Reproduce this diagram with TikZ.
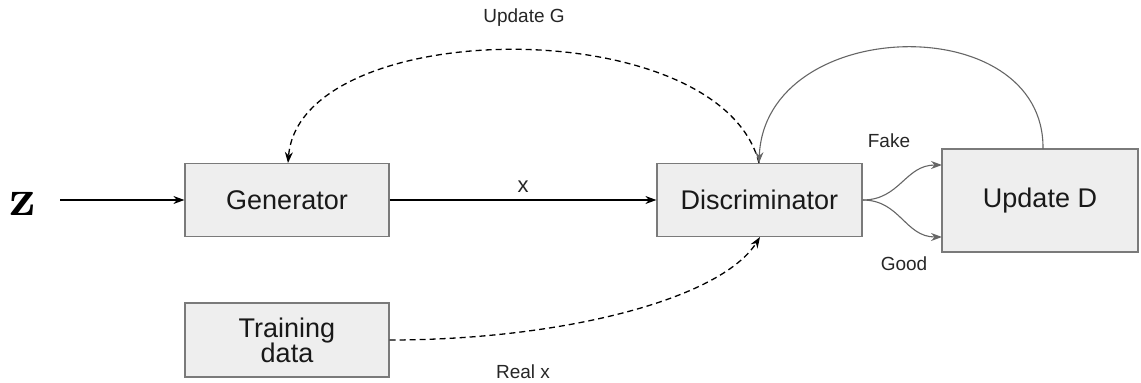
\documentclass[tikz,border=0pt]{standalone}
\usepackage[no-math]{fontspec}
\usepackage{graphicx}
\setmainfont{Liberation Sans}
\usetikzlibrary{arrows.meta}
\definecolor{boxfill}{HTML}{EEEEEE}
\definecolor{boxline}{HTML}{7A7A7A}
\definecolor{arcgray}{HTML}{666666}
\tikzset{
  blk/.style={draw=boxline, fill=boxfill, line width=1.2pt, inner sep=0pt, align=center,
    font=\fontsize{27}{31}\selectfont, text=black!90},
  lbl/.style={font=\fontsize{19}{22}\selectfont, text=black!85},
  arr/.style={line width=1.3pt, -{Stealth[length=11pt,width=8pt]}},
  dsh/.style={arr, dash pattern=on 6pt off 4pt},
}
\begin{document}
\begin{tikzpicture}[x=1pt,y=-1pt]
\useasboundingbox (0,0) rectangle (1141,383);
\node[blk, minimum width=204pt, minimum height=73pt] (gen) at (287,200) {Generator};
\node[blk, minimum width=205pt, minimum height=73pt] (dis) at (759.5,200) {Discriminator};
\node[blk, minimum width=196pt, minimum height=103pt] (upd) at (1040,200.5) {Update D};
\node[blk, minimum width=204pt, minimum height=74pt] (trn) at (287,340) {Training\\[-6pt]data};
\node[anchor=base, inner sep=0pt] (z) at (23,215) {\fontsize{10}{12}\selectfont\scalebox{5.2}{$\mathbf{z}$}};
\coordinate (zs) at (60,200);

\draw[arr] (zs) -- (gen.west);
\draw[arr] (gen.east) -- node[lbl, above=4pt, font=\fontsize{22}{24}\selectfont] (xl) {x} (dis.west);

\coordinate (dtop) at (759,163);
\coordinate (gtop) at (288,163);
\coordinate (dbot) at (760,237);
\coordinate (utop) at (1043,149);
\draw[dsh] (dtop) .. controls (720,10) and (300,15) .. (gtop);
\node[lbl] (ug) at (524,18) {Update G};

\draw[arr, draw=arcgray, line width=1.1pt] (utop) .. controls (1045,8) and (765,15) .. (dtop);

\draw[dsh] (trn.east) .. controls (560,340) and (720,300) .. (dbot);
\node[lbl] (rx) at (523,372) {Real x};

\draw[arr, draw=arcgray, line width=1.1pt] (dis.east) .. controls (900,200) and (905,165) .. (942,165);
\draw[arr, draw=arcgray, line width=1.1pt] (dis.east) .. controls (900,200) and (905,237) .. (942,237);
\node[lbl] (fk) at (889,141) {Fake};
\node[lbl] (gd) at (904,264) {Good};
\end{tikzpicture}
\end{document}
